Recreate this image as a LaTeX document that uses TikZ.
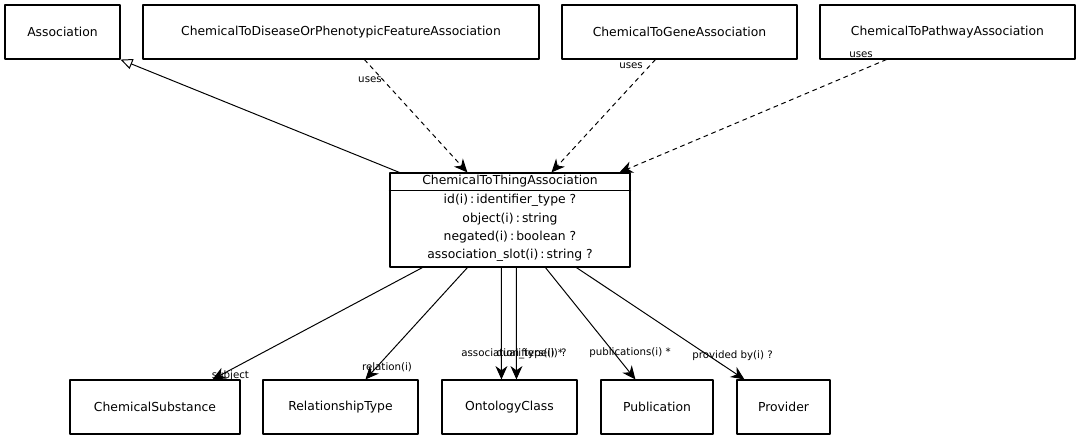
\documentclass[tikz,border=0pt]{standalone}
\usepackage{fontspec}
\setmainfont{DejaVu Sans}
\usetikzlibrary{arrows.meta,positioning}

\tikzset{
  cls/.style={draw,line width=0.8pt,minimum height=1.35cm,inner sep=0pt,font=\fontsize{8.8}{10}\selectfont},
  lbl/.style={inner sep=0pt,font=\fontsize{7.3}{8}\selectfont},
  assoc/.style={-{Stealth[length=9.5pt,width=8.5pt,inset=3pt]},line width=0.7pt},
  usesarr/.style={assoc,dashed},
  isa/.style={-{Triangle[open,length=8.5pt,width=7.5pt,fill=white]},line width=0.7pt}
}

\begin{document}
\begin{tikzpicture}[line cap=round,line join=round]
  \useasboundingbox (0,0) rectangle (27.075,-11);
  % top row
  \node[cls,minimum width=2.875cm] (assoc) at (1.5625,-0.8) {Association};
  \node[cls,minimum width=9.9cm] (disease) at (8.525,-0.8) {ChemicalToDiseaseOrPhenotypicFeatureAssociation};
  \node[cls,minimum width=5.875cm] (gene) at (16.9875,-0.8) {ChemicalToGeneAssociation};
  \node[cls,minimum width=6.375cm] (pathway) at (23.6875,-0.8) {ChemicalToPathwayAssociation};
  % class with slots
  \node[draw,line width=0.8pt,minimum width=6cm,minimum height=2.35cm] (thing) at (12.75,-5.5) {};
  \node[lbl,font=\fontsize{8.8}{10}\selectfont] (thinghead) at (12.75,-4.525) {ChemicalToThingAssociation};
  \draw[line width=0.8pt] ([yshift=-0.45cm]thing.north west) -- ([yshift=-0.45cm]thing.north east);
  \node[lbl,font=\fontsize{8.8}{13}\selectfont,align=center] (thingslots) at (12.75,-5.7)
    {id(i)\,:\,identifier\_type ?\\object(i)\,:\,string\\negated(i)\,:\,boolean ?\\association\_slot(i)\,:\,string ?};
  % bottom row
  \node[cls,minimum width=4.25cm] (subst) at (3.875,-10.175) {ChemicalSubstance};
  \node[cls,minimum width=3.875cm] (reltype) at (8.5125,-10.175) {RelationshipType};
  \node[cls,minimum width=3.375cm] (onto) at (12.7375,-10.175) {OntologyClass};
  \node[cls,minimum width=2.8cm] (pub) at (16.425,-10.175) {Publication};
  \node[cls,minimum width=2.325cm] (prov) at (19.5875,-10.175) {Provider};

  % is_a and uses
  \draw[isa] ([xshift=0.25cm]thing.north west) -- (assoc.south east);
  \draw[usesarr] ([xshift=5.55cm]disease.south west) -- ([xshift=1.95cm]thing.north west);
  \draw[usesarr] ([xshift=2.35cm]gene.south west) -- ([xshift=4.05cm]thing.north west);
  \draw[usesarr] ([xshift=1.675cm]pathway.south west) -- ([xshift=5.75cm]thing.north west);
  \node[lbl] (uses1) at (9.25,-2.0) {uses};
  \node[lbl] (uses2) at (15.775,-1.65) {uses};
  \node[lbl] (uses3) at (21.525,-1.375) {uses};

  % slots
  \draw[assoc] ([xshift=0.825cm]thing.south west) -- ([xshift=3.575cm]subst.north west);
  \draw[assoc] ([xshift=1.95cm]thing.south west) -- ([xshift=2.575cm]reltype.north west);
  \draw[assoc] ([xshift=2.8cm]thing.south west) -- ([xshift=1.5cm]onto.north west);
  \draw[assoc] ([xshift=3.175cm]thing.south west) -- ([xshift=1.875cm]onto.north west);
  \draw[assoc] ([xshift=3.9cm]thing.south west) -- ([xshift=0.875cm]pub.north west);
  \draw[assoc] ([xshift=4.675cm]thing.south west) -- ([xshift=0.2cm]prov.north west);
  \node[lbl] (lsubject) at (5.76,-9.4) {subject};
  \node[lbl] (lrelation) at (9.675,-9.175) {relation(i)};
  \node[lbl] (ltype) at (12.85,-8.85) {association\_type(i) ?};
  \node[lbl] (lqual) at (13.24,-8.85) {qualifiers(i) *};
  \node[lbl] (lpub) at (15.75,-8.825) {publications(i) *};
  \node[lbl] (lprov) at (18.3125,-8.9) {provided by(i) ?};
\end{tikzpicture}
\end{document}
